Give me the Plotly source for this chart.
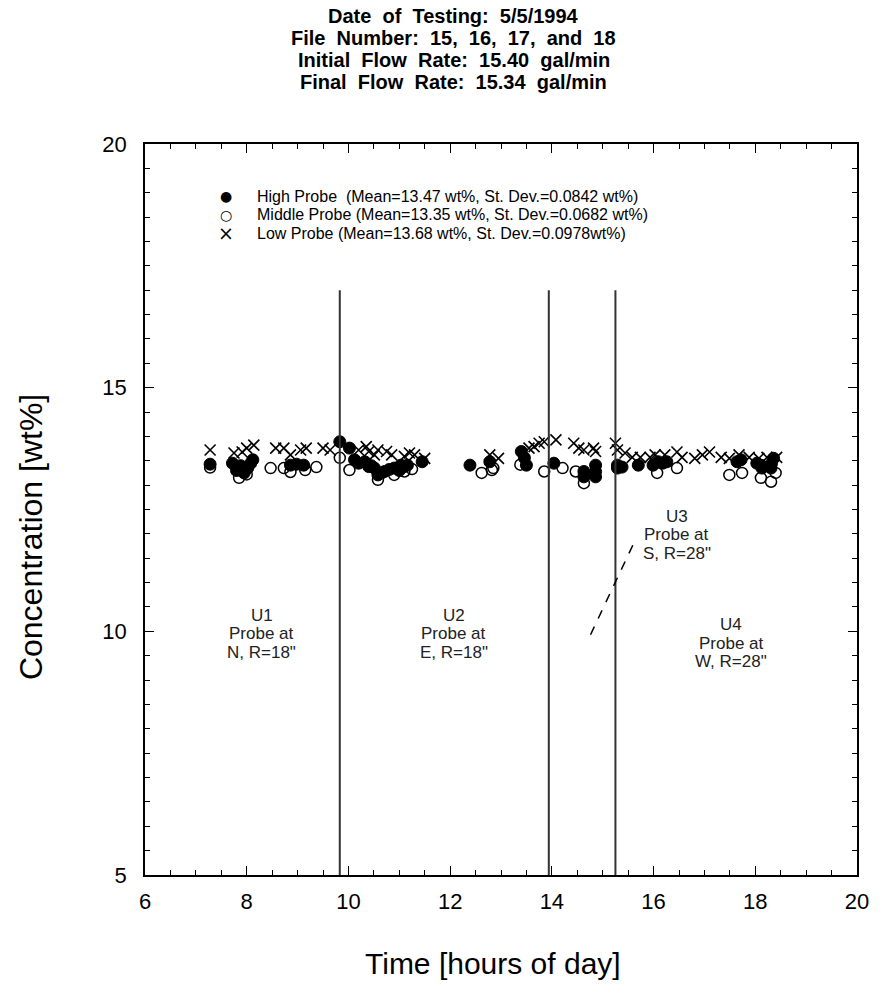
import plotly.graph_objects as go

# ---------------- data ----------------
high_t = [7.28, 7.72, 7.80, 7.88, 7.95, 8.02, 8.08, 8.12, 8.86, 8.98, 9.12,
          9.83, 10.02, 10.12, 10.20, 10.32, 10.40, 10.45, 10.51, 10.58, 10.65, 10.71,
          10.80, 10.90, 11.00, 11.03, 11.10, 11.16, 11.45, 12.39, 12.78,
          13.40, 13.46, 13.50, 14.04, 14.63, 14.63, 14.86, 14.86, 14.86,
          15.29, 15.29, 15.38, 15.70, 15.99, 16.09, 16.18, 16.26,
          17.64, 17.72, 18.03, 18.11, 18.13, 18.31, 18.32, 18.36]
high_c = [13.43, 13.45, 13.30, 13.40, 13.25, 13.35, 13.45, 13.52, 13.41, 13.43, 13.41,
          13.89, 13.76, 13.52, 13.45, 13.48, 13.38, 13.40, 13.35, 13.21, 13.25, 13.28,
          13.32, 13.35, 13.30, 13.41, 13.38, 13.41, 13.48, 13.41, 13.48,
          13.69, 13.56, 13.41, 13.45, 13.28, 13.17, 13.41, 13.28, 13.17,
          13.41, 13.35, 13.37, 13.41, 13.41, 13.48, 13.45, 13.48,
          13.48, 13.52, 13.45, 13.41, 13.35, 13.35, 13.45, 13.55]

mid_t = [7.28, 7.85, 8.00, 8.47, 8.73, 8.86, 9.15, 9.37,
         9.83, 10.02, 10.58, 10.90, 11.10, 11.25,
         12.62, 12.82, 12.85, 13.38,
         13.85, 14.21, 14.47, 14.63,
         16.07, 16.46, 17.49, 17.74, 18.11, 18.31, 18.40]
mid_c = [13.36, 13.15, 13.22, 13.35, 13.35, 13.27, 13.31, 13.37,
         13.56, 13.31, 13.11, 13.21, 13.28, 13.33,
         13.25, 13.31, 13.35, 13.42,
         13.28, 13.35, 13.28, 13.04,
         13.25, 13.35, 13.21, 13.25, 13.15, 13.07, 13.25]

low_t = [7.28, 7.75, 7.91, 8.00, 8.14, 8.57, 8.73, 8.86, 9.06, 9.17, 9.50, 9.64,
         10.20, 10.35, 10.40, 10.51, 10.58, 10.75, 10.85, 11.10, 11.20, 11.30, 11.50,
         12.78, 12.95, 13.55, 13.65, 13.75, 13.85,
         14.08, 14.43, 14.53, 14.63, 14.82, 14.86,
         15.25, 15.29, 15.44, 15.58, 15.74, 15.93, 16.03, 16.22, 16.46, 16.56,
         16.81, 16.96, 17.10, 17.33, 17.49, 17.68, 17.88, 18.07, 18.23, 18.42]
low_c = [13.72, 13.66, 13.68, 13.76, 13.82, 13.76, 13.76, 13.62, 13.72, 13.76, 13.76, 13.72,
         13.72, 13.79, 13.69, 13.62, 13.72, 13.69, 13.62, 13.59, 13.66, 13.62, 13.55,
         13.62, 13.55, 13.76, 13.79, 13.86, 13.89,
         13.93, 13.86, 13.76, 13.72, 13.76, 13.69,
         13.86, 13.72, 13.66, 13.57, 13.57, 13.57, 13.62, 13.62, 13.68, 13.57,
         13.55, 13.62, 13.68, 13.57, 13.55, 13.62, 13.57, 13.55, 13.57, 13.57]

series_names = [
    "High Probe  (Mean=13.47 wt%, St. Dev.=0.0842 wt%)",
    "Middle Probe (Mean=13.35 wt%, St. Dev.=0.0682 wt%)",
    "Low Probe (Mean=13.68 wt%, St. Dev.=0.0978wt%)",
]
series_glyphs = ["\u25CF", "\u25CB", "\u00D7"]
glyph_sizes = [14, 14, 19]

divider_times = [9.83, 13.94, 15.25]
divider_bottom = 5
divider_top = 17

zone_labels = [["U1", "Probe at", "N, R=18\""], ["U2", "Probe at", "E, R=18\""],
               ["U3", "Probe at", "S, R=28\""], ["U4", "Probe at", "W, R=28\""]]
zone_label_t = [8.30, 12.07, 16.46, 17.53]
zone_label_c = [9.95, 9.95, 11.98, 9.76]

pointer_t = [14.76, 15.62]
pointer_c = [9.93, 11.83]

title_lines = ["Date of Testing: 5/5/1994", "File Number: 15, 16, 17, and 18",
               "Initial Flow Rate: 15.40 gal/min", "Final Flow Rate: 15.34 gal/min"]

x_ticks = [6, 8, 10, 12, 14, 16, 18, 20]
y_ticks = [5, 10, 15, 20]

# ---------------- figure ----------------
FONT = "Liberation Sans, Arial, Helvetica, sans-serif"
W, H = 881, 987
ML, MR, MT, MB = 145, 17, 144, 112
PW, PH = W - ML - MR, H - MT - MB


def px_x(px):
    return (px - ML) / PW


def px_y(py):
    return (H - MB - py) / PH


fig = go.Figure()

fig.add_trace(go.Scatter(x=high_t, y=high_c, mode="markers", name=series_names[0],
                         marker=dict(symbol="circle", size=12, color="black",
                                     line=dict(color="black", width=1))))
fig.add_trace(go.Scatter(x=mid_t, y=mid_c, mode="markers", name=series_names[1],
                         marker=dict(symbol="circle-open", size=11, color="black",
                                     line=dict(color="black", width=1.5))))
fig.add_trace(go.Scatter(x=low_t, y=low_c, mode="markers", name=series_names[2],
                         marker=dict(symbol="x-thin", size=11, color="black",
                                     line=dict(color="black", width=1.6))))

for t in divider_times:
    fig.add_shape(type="line", xref="x", yref="y", x0=t, x1=t,
                  y0=divider_bottom, y1=divider_top,
                  line=dict(color="#333333", width=2))

fig.add_shape(type="line", xref="x", yref="y",
              x0=pointer_t[0], y0=pointer_c[0], x1=pointer_t[1], y1=pointer_c[1],
              line=dict(color="black", width=1.5, dash="dash"))

for lines, t, c in zip(zone_labels, zone_label_t, zone_label_c):
    for k, line in enumerate(lines):
        fig.add_annotation(x=t, y=c, xref="x", yref="y", text=line, showarrow=False,
                           yshift=(1 - k) * 18.5,
                           font=dict(family=FONT, size=17, color="#222222"))

# legend rows (glyph + text)
legend_rows_py = [196, 214.5, 233]
for name, glyph, gsize, py in zip(series_names, series_glyphs, glyph_sizes, legend_rows_py):
    fig.add_annotation(x=px_x(227), y=px_y(py), xref="paper", yref="paper",
                       text=glyph, showarrow=False, xanchor="center", yanchor="middle",
                       font=dict(family="DejaVu Sans", size=gsize, color="black"))
    fig.add_annotation(x=px_x(256), y=px_y(py), xref="paper", yref="paper",
                       text=name.replace("  ", " &nbsp;"), showarrow=False,
                       xanchor="left", yanchor="middle",
                       font=dict(family=FONT, size=16, color="black"))

# title lines
title_py = [16, 38, 60, 82]
for line, py in zip(title_lines, title_py):
    fig.add_annotation(x=px_x(457), y=px_y(py), xref="paper", yref="paper",
                       text="<b>" + line.replace(" ", " &nbsp;") + "</b>",
                       showarrow=False, xanchor="center", yanchor="middle",
                       font=dict(family=FONT, size=20, color="black"))

# axis titles
fig.add_annotation(x=px_x(30), y=px_y(537), xref="paper", yref="paper",
                   text="Concentration [wt%]", textangle=-90, showarrow=False,
                   xanchor="center", yanchor="middle",
                   font=dict(family=FONT, size=32, color="black"))
fig.add_annotation(x=px_x(496), y=px_y(963), xref="paper", yref="paper",
                   text="Time [hours of day]", showarrow=False,
                   xanchor="center", yanchor="middle",
                   font=dict(family=FONT, size=30, color="black"))

axis_common = dict(showline=True, linecolor="black", linewidth=1.5, mirror="allticks",
                   ticks="inside", ticklen=9, tickwidth=1.2, tickcolor="black",
                   showgrid=False, zeroline=False,
                   tickfont=dict(family=FONT, size=22, color="black"))

fig.update_layout(
    width=W, height=H,
    paper_bgcolor="white", plot_bgcolor="white",
    margin=dict(l=ML, r=MR, t=MT, b=MB),
    xaxis=dict(range=[6, 20], tickvals=x_ticks, ticklabelstandoff=6,
               minor=dict(dtick=0.5, ticks="inside", ticklen=5, tickcolor="black", tickwidth=1),
               **axis_common),
    yaxis=dict(range=[5, 20], tickvals=y_ticks, ticklabelstandoff=12,
               minor=dict(dtick=0.5, ticks="inside", ticklen=5, tickcolor="black", tickwidth=1),
               **axis_common),
    showlegend=False,
)

fig.write_html("out.html")
